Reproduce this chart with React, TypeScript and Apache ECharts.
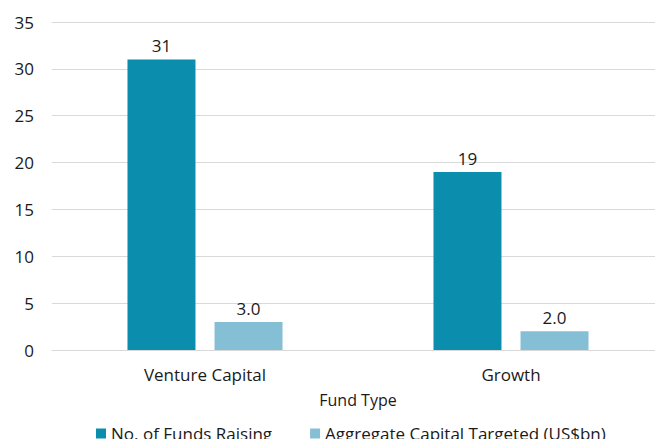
import React, { useEffect, useRef } from "react";
import * as echarts from "echarts";

const categories = ["Venture Capital", "Growth"];
const fundsRaising = [31, 19];
const capitalTargeted = [3.0, 2.0];
const seriesNames = ["No. of Funds Raising", "Aggregate Capital Targeted (US$bn)"];
const axisName = "Fund Type";

const FONT = "'Open Sans', 'Noto Sans', sans-serif";

export default function App() {
  const ref = useRef<HTMLDivElement>(null);
  useEffect(() => {
    if (!ref.current) return;
    const chart = echarts.init(ref.current, undefined, { renderer: "svg" });
    chart.setOption({
      animation: false,
      textStyle: { fontFamily: FONT },
      grid: { left: 52, top: 22, width: 612, height: 328 },
      legend: {
        data: seriesNames,
        top: 420,
        left: 91,
        itemWidth: 10,
        itemHeight: 10,
        itemGap: 38,
        icon: "rect",
        textStyle: { fontSize: 17, color: "#1a1a1a", fontFamily: FONT, padding: [0, 0, 0, 0] },
      },
      xAxis: {
        type: "category",
        data: categories,
        name: axisName,
        nameLocation: "middle",
        nameGap: 42,
        nameTextStyle: { fontSize: 16, color: "#1a1a1a", fontFamily: FONT },
        axisLine: { lineStyle: { color: "#d9d9d9" } },
        axisTick: { show: false },
        axisLabel: { fontSize: 17, color: "#1a1a1a", margin: 16, fontFamily: FONT },
      },
      yAxis: {
        type: "value",
        min: 0,
        max: 35,
        interval: 5,
        axisLine: { show: false },
        axisTick: { show: false },
        splitLine: { lineStyle: { color: "#d9d9d9" } },
        axisLabel: { fontSize: 17, color: "#1a1a1a", margin: 18, fontFamily: FONT },
      },
      series: [
        {
          name: seriesNames[0],
          type: "bar",
          data: fundsRaising,
          barWidth: 68,
          barGap: "28%",
          itemStyle: { color: "#0B8EAE" },
          label: {
            show: true,
            position: "top",
            distance: 5,
            fontSize: 17,
            color: "#1a1a1a",
            fontFamily: FONT,
          },
        },
        {
          name: seriesNames[1],
          type: "bar",
          data: capitalTargeted,
          barWidth: 68,
          itemStyle: { color: "#85BFD6" },
          label: {
            show: true,
            position: "top",
            distance: 5,
            fontSize: 17,
            color: "#1a1a1a",
            fontFamily: FONT,
            formatter: (p: any) => Number(p.value).toFixed(1),
          },
        },
      ],
    });
    return () => chart.dispose();
  }, []);
  return (
    <div style={{ width: 655, height: 439, position: "absolute", left: 0, top: 0, overflow: "hidden" }}>
      <div ref={ref} style={{ width: 670, height: 439 }} />
    </div>
  );
}
